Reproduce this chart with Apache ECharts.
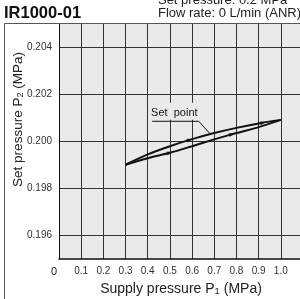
<!DOCTYPE html>
<html>
<head>
<meta charset="utf-8">
<script src="https://cdn.jsdelivr.net/npm/echarts@6/dist/echarts.min.js"></script>
<style>
  html, body { margin: 0; padding: 0; background: #fff; }
  #chart { width: 300px; height: 299px; }
</style>
</head>
<body>
<div id="chart"></div>
<script>
// 数据
const supplyP1 = [0.3, 0.4, 0.5, 0.6, 0.7, 0.8, 0.9, 1.0];
const upperP2 = [0.19901, 0.19945, 0.19980, 0.20010, 0.20036, 0.20058, 0.20077, 0.20092];
const lowerP2 = [0.19901, 0.19929, 0.19952, 0.19980, 0.20009, 0.20036, 0.20061, 0.20092];

// 箭头位置
const arrowX = [0.50, 0.59, 0.78, 0.92];
const arrowY = [0.19952, 0.20007, 0.20031, 0.20080];

// Set point 引线
const leaderX = [0.42, 0.63, 0.68];
const leaderY = [0.20086, 0.20086, 0.20034];

const xTicks = ['0', '0.1', '0.2', '0.3', '0.4', '0.5', '0.6', '0.7', '0.8', '0.9', '1.0'];

const zip = (xs, ys) => xs.map((x, i) => [x, ys[i]]);
const font = '"Liberation Sans", Arial, sans-serif';

const chart = echarts.init(document.getElementById('chart'), null, { renderer: 'canvas' });

const option = {
  animation: false,
  backgroundColor: '#fff',
  graphic: [
    // 外框
    {
      type: 'polyline',
      shape: { points: [[4.5, 310], [4.5, 23.5], [310, 23.5]] },
      style: { stroke: '#555', lineWidth: 1, fill: null },
      z: 10
    },
    {
      type: 'text', left: 4, top: 5,
      style: { text: 'IR1000-01', font: 'bold 16.5px ' + font, fill: '#111' }
    },
    {
      type: 'text', right: -1, top: -6,
      style: {
        text: 'Set pressure: 0.2 MPa\nFlow rate: 0 L/min (ANR)',
        font: '13px ' + font, fill: '#222', align: 'right', lineHeight: 13
      }
    }
  ],
  grid: {
    left: 59, right: -3, top: 24, bottom: 40,
    outerBoundsMode: 'none', containLabel: false,
    show: true, backgroundColor: '#e9eae9', borderWidth: 0
  },
  xAxis: {
    type: 'value', min: 0, max: 1.1, interval: 0.1,
    name: 'Supply pressure P{s|1} (MPa)',
    nameLocation: 'middle', nameGap: 23, nameMoveOverlap: false,
    nameTextStyle: {
      fontFamily: font, fontSize: 14, color: '#222',
      rich: { s: { fontFamily: font, fontSize: 9.5, color: '#222', verticalAlign: 'bottom', padding: [4, 0, 0, 0] } }
    },
    axisLine: { show: true, lineStyle: { color: '#111', width: 1.5 } },
    axisTick: { show: false },
    splitLine: { show: true, lineStyle: { color: '#333', width: 1 } },
    axisLabel: {
      margin: 7, fontFamily: font, fontSize: 10, color: '#333',
      formatter: (v) => {
        const i = Math.round(v * 10);
        if (i === 0) return '{z|0}';
        return xTicks[i] || '';
      },
      rich: { z: { fontFamily: font, fontSize: 11, color: '#222', padding: [0, 10, 3, 0] } }
    }
  },
  yAxis: {
    type: 'value', min: 0.195, max: 0.205, interval: 0.001,
    name: 'Set pressure P{s|2} (MPa)',
    nameLocation: 'middle', nameGap: 34, nameMoveOverlap: false,
    nameTextStyle: {
      fontFamily: font, fontSize: 13.5, color: '#222', padding: [0, 0, 0, 44],
      rich: { s: { fontFamily: font, fontSize: 9, color: '#222', verticalAlign: 'bottom', padding: [4, 0, 0, 0] } }
    },
    axisLine: { show: true, lineStyle: { color: '#111', width: 1 } },
    axisTick: { show: false },
    splitLine: { show: true, lineStyle: { color: ['rgba(0,0,0,0)', '#333'], width: 1 } },
    axisLabel: {
      margin: 7, fontFamily: font, fontSize: 10, color: '#333',
      formatter: (v) => {
        const k = Math.round(v * 1000);
        return (k % 2 === 0 && k > 195 && k < 205) ? (k / 1000).toFixed(3) : '';
      }
    }
  },
  series: [
    {
      type: 'line', data: zip(supplyP1, upperP2), smooth: 0.3,
      symbol: 'none', lineStyle: { color: '#111', width: 2 }, z: 3
    },
    {
      type: 'line', data: zip(supplyP1, lowerP2), smooth: 0.3,
      symbol: 'none', lineStyle: { color: '#111', width: 2 }, z: 3
    },
    {
      type: 'scatter', data: zip(arrowX, arrowY),
      symbol: 'triangle', symbolSize: [4, 6], symbolRotate: -75,
      itemStyle: { color: '#111' }, z: 4
    },
    {
      type: 'line', data: zip(leaderX, leaderY),
      symbol: 'none', lineStyle: { color: '#111', width: 1 }, z: 5,
      markPoint: {
        symbol: 'circle', symbolSize: 1,
        itemStyle: { color: 'rgba(0,0,0,0)' },
        data: [{ coord: [0.52, leaderY[0]] }],
        label: {
          show: true, position: 'top', distance: 1,
          formatter: 'Set  point',
          fontFamily: font, fontSize: 11, color: '#111',
          backgroundColor: '#e9eae9', padding: [5, 2, 1, 2]
        }
      }
    }
  ]
};

chart.setOption(option);
</script>
</body>
</html>
